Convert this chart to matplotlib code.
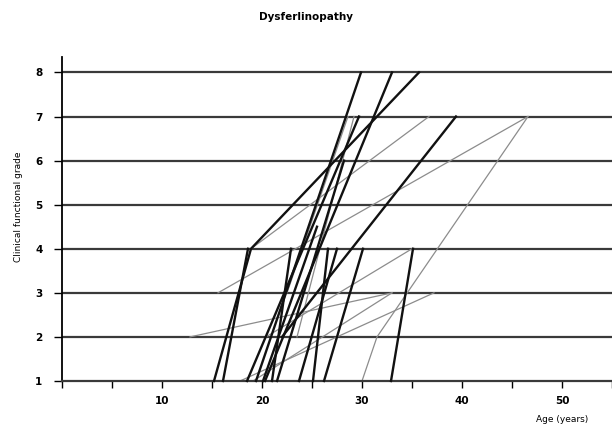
import matplotlib.pyplot as plt
from matplotlib.ticker import MultipleLocator

# Each patient: list of (age, grade) visits
thick_ages = [
    [15.2, 18.9, 35.7],
    [16.1, 18.6],
    [19.4, 29.9],
    [20.3, 33.0],
    [18.5, 29.7],
    [21.0, 22.9],
    [22.0, 39.4],
    [25.1, 26.6],
    [26.2, 30.1],
    [32.9, 35.1],
    [20.1, 25.5],
    [23.7, 27.5],
    [21.5, 28.2],
]
thick_grades = [
    [1, 4, 8],
    [1, 4],
    [1, 8],
    [1, 8],
    [1, 7],
    [1, 4],
    [2, 7],
    [1, 4],
    [1, 4],
    [1, 4],
    [1, 4.5],
    [1, 4],
    [1, 6],
]

thin_ages = [
    [12.8, 33.0],
    [15.6, 46.6],
    [30.0, 31.5, 46.6],
    [20.4, 35.0],
    [17.8, 37.2],
    [18.9, 36.7],
    [22.5, 28.6],
    [23.5, 29.2],
    [19.1, 33.0],
]
thin_grades = [
    [2, 3],
    [3, 7],
    [1, 2, 7],
    [2, 4],
    [1, 3],
    [4, 7],
    [3, 7],
    [2, 7],
    [1, 3],
]

grades = [1, 2, 3, 4, 5, 6, 7, 8]
age_ticks = [10, 20, 30, 40, 50]

fig = plt.figure(figsize=(6.12, 4.30), dpi=100)
ax = fig.add_axes([62 / 612, 49 / 430, 550 / 612, 324 / 430])

# grade lines
for g in grades[1:]:
    ax.axhline(g, color='#3a3a3a', lw=1.6, zorder=1)

for a, g in zip(thin_ages, thin_grades):
    ax.plot(a, g, color='#8c8c8c', lw=0.9, zorder=2, clip_on=False)
for a, g in zip(thick_ages, thick_grades):
    ax.plot(a, g, color='#111111', lw=1.7, zorder=3, clip_on=False)

ax.set_xlim(0, 55)
ax.set_ylim(1, 8.35)
ax.set_xticks(age_ticks)
ax.xaxis.set_minor_locator(MultipleLocator(5))
ax.set_yticks(grades)

for s in ['top', 'right']:
    ax.spines[s].set_visible(False)
ax.spines['left'].set_linewidth(1.3)
ax.spines['bottom'].set_linewidth(1.6)
ax.spines['bottom'].set_color('#3a3a3a')

ax.tick_params(axis='both', which='both', direction='out', width=1)
ax.tick_params(axis='y', length=6, labelsize=7.5, pad=8)
ax.tick_params(axis='x', which='major', length=5, labelsize=7.5, pad=6)
ax.tick_params(axis='x', which='minor', length=5)
for lab in ax.get_xticklabels() + ax.get_yticklabels():
    lab.set_fontweight('bold')

fig.text(0.5, 0.96, 'Dysferlinopathy', ha='center', va='center', fontsize=7.5, fontweight='bold')
fig.text(0.03, 0.52, 'Clinical functional grade', rotation=90, ha='center', va='center', fontsize=6.5)
fig.text(0.918, 0.025, 'Age (years)', ha='center', va='center', fontsize=6.5)

fig.savefig('out.png', dpi=100)
